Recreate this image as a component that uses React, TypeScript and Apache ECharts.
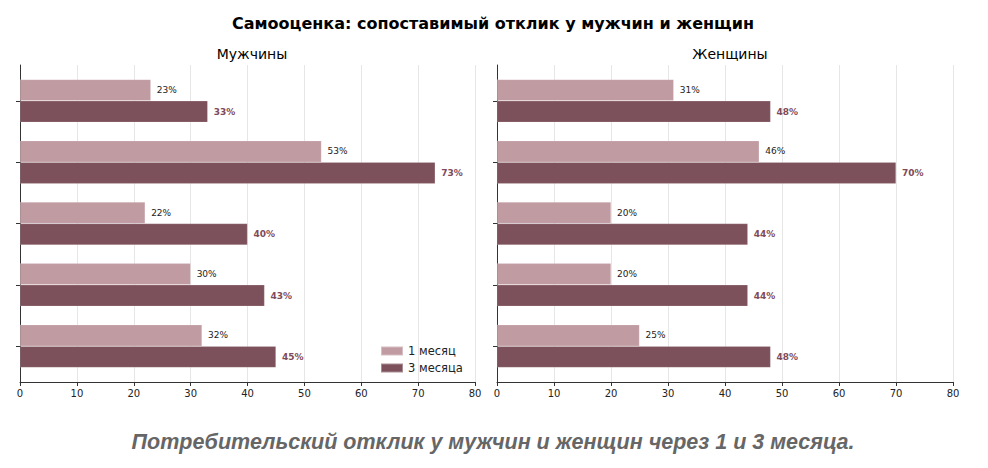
import React, { useRef, useEffect } from "react";
import * as echarts from "echarts";

const categories = ["Вопрос 1", "Вопрос 2", "Вопрос 3", "Вопрос 4", "Вопрос 5"];
const xTicks = [0, 10, 20, 30, 40, 50, 60, 70, 80];
const seriesNames = ["1 месяц", "3 месяца"];
const menMonth1 = [23, 53, 22, 30, 32];
const menMonth3 = [33, 73, 40, 43, 45];
const womenMonth1 = [31, 46, 20, 20, 25];
const womenMonth3 = [48, 70, 44, 44, 48];

const LIGHT = "#c09ba2";
const DARK = "#7c515b";
const FONT = "DejaVu Sans";

export default function App() {
  const chartRef = useRef<HTMLDivElement>(null);

  useEffect(() => {
    document.body.style.margin = "0";
    if (!chartRef.current) return;
    const chart = echarts.init(chartRef.current, null, { renderer: "svg" });

    // outer frame (spines, grid lines) and inner band for categories
    const panels = [
      { left: 20, right: 513 },
      { left: 497, right: 35 },
    ];
    const frameTop = 65;
    const frameBottom = 86;
    const band = 317 / 5.17;
    const inset = 0.085 * band;

    const grids: any[] = [];
    const xAxes: any[] = [];
    const yAxes: any[] = [];
    panels.forEach((p, i) => {
      grids.push({ left: p.left, right: p.right, top: frameTop, bottom: frameBottom });
      grids.push({
        left: p.left,
        right: p.right,
        top: frameTop + inset,
        bottom: frameBottom + inset,
      });
      xAxes.push({
        type: "value",
        gridIndex: i * 2,
        min: xTicks[0],
        max: xTicks[xTicks.length - 1],
        interval: 10,
        axisLine: { show: true, lineStyle: { color: "#333", width: 1 } },
        axisTick: { show: true, length: 4, lineStyle: { color: "#333" } },
        axisLabel: { color: "#222", fontFamily: FONT, fontSize: 10, margin: 6 },
        splitLine: { show: true, lineStyle: { color: "#e6e6e6", width: 1 } },
      });
      xAxes.push({
        type: "value",
        gridIndex: i * 2 + 1,
        min: xTicks[0],
        max: xTicks[xTicks.length - 1],
        show: false,
      });
      yAxes.push({
        type: "value",
        gridIndex: i * 2,
        min: 0,
        max: 1,
        axisLine: { show: true, lineStyle: { color: "#333", width: 1 } },
        axisTick: { show: false },
        axisLabel: { show: false },
        splitLine: { show: false },
      });
      yAxes.push({
        type: "category",
        gridIndex: i * 2 + 1,
        data: categories,
        inverse: true,
        axisLine: { show: false },
        axisTick: {
          show: true,
          alignWithLabel: true,
          length: 4,
          lineStyle: { color: "#333" },
        },
        axisLabel: { show: false },
        splitLine: { show: false },
      });
    });

    const barWidth = 0.35 * band;
    const makeSeries = (name: string, data: number[], idx: number, dark: boolean) => ({
      name,
      type: "bar",
      xAxisIndex: idx,
      yAxisIndex: idx,
      data,
      barWidth,
      barGap: "0%",
      itemStyle: {
        color: dark ? DARK : LIGHT,
        borderColor: "rgba(255,255,255,0.35)",
        borderWidth: 0.5,
      },
      label: {
        show: true,
        position: "right",
        distance: 6,
        formatter: (p: any) => `${p.value}%`,
        fontFamily: FONT,
        fontSize: 9,
        fontWeight: dark ? "bold" : "normal",
        color: dark ? "#7e4a5a" : "#222",
      },
    });

    const option = {
      animation: false,
      backgroundColor: "#fff",
      title: [
        {
          text: "Самооценка: сопоставимый отклик у мужчин и женщин",
          left: 488,
          top: 10,
          textAlign: "center",
          textStyle: { fontFamily: FONT, fontSize: 16, fontWeight: "bold", color: "#000" },
        },
        {
          text: "Мужчины",
          left: 247,
          top: 42,
          textAlign: "center",
          textStyle: { fontFamily: FONT, fontSize: 14, fontWeight: "normal", color: "#000" },
        },
        {
          text: "Женщины",
          left: 725,
          top: 42,
          textAlign: "center",
          textStyle: { fontFamily: FONT, fontSize: 14, fontWeight: "normal", color: "#000" },
        },
        {
          text: "Потребительский отклик у мужчин и женщин через 1 и 3 месяца.",
          left: 488,
          top: 426,
          textAlign: "center",
          textStyle: {
            fontFamily: "Liberation Sans",
            fontSize: 21.5,
            fontStyle: "italic",
            fontWeight: "bold",
            color: "#666",
          },
        },
      ],
      legend: {
        data: seriesNames,
        orient: "vertical",
        left: 375,
        top: 340,
        itemWidth: 22,
        itemHeight: 9,
        itemGap: 5,
        icon: "rect",
        textStyle: { fontFamily: FONT, fontSize: 11.5, color: "#222" },
      },
      grid: grids,
      xAxis: xAxes,
      yAxis: yAxes,
      series: [
        makeSeries(seriesNames[0], menMonth1, 1, false),
        makeSeries(seriesNames[1], menMonth3, 1, true),
        makeSeries(seriesNames[0], womenMonth1, 3, false),
        makeSeries(seriesNames[1], womenMonth3, 3, true),
      ],
    };

    chart.setOption(option);
    return () => chart.dispose();
  }, []);

  return <div ref={chartRef} style={{ width: 988, height: 468 }} />;
}
